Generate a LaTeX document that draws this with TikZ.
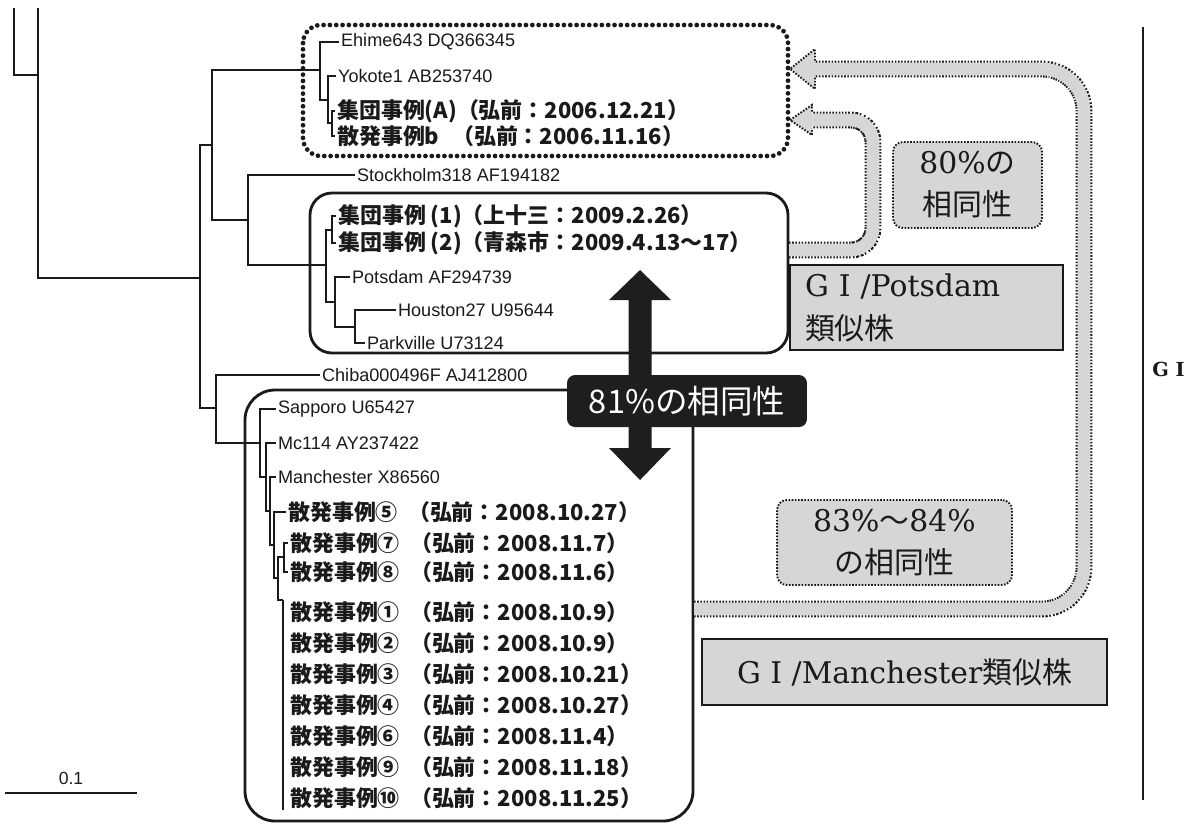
\documentclass[tikz,border=0pt]{standalone}
\usepackage{fontspec}
\newfontfamily\lab{Liberation Sans}
\newfontfamily\jp{Noto Sans CJK JP}
\newfontfamily\ser{DejaVu Serif}
\usepackage{tikz}
\usetikzlibrary{positioning,calc}

\definecolor{ink}{HTML}{1A1A1A}
\definecolor{shade}{HTML}{D6D6D6}
\definecolor{dark}{HTML}{1E1E1E}

\tikzset{
  branch/.style={draw=ink, line width=1.1pt},
  strain/.style={anchor=west, inner sep=1pt, text=ink, font=\lab\fontsize{10.3}{12}\selectfont},
  case/.style={anchor=west, inner sep=1pt, text=ink, font=\jp\bfseries\fontsize{12.5}{14}\selectfont},
  dotbox/.style={draw=ink, line width=2.7pt, line cap=round, dash pattern=on 0pt off 3.6pt, rounded corners=0.36cm},
  cladebox/.style={draw=ink, line width=1.6pt, rounded corners=0.5cm},
  simarrow/.style={draw=ink, line width=9.6pt, dash pattern=on 0.9pt off 0.9pt,
    postaction={draw=shade, solid, line width=7.2pt}},
  simhead/.style={fill=shade, draw=ink, line width=1.1pt, dash pattern=on 0.9pt off 0.9pt},
  simbox/.style={fill=shade, draw=ink, line width=1.1pt, dash pattern=on 0.9pt off 0.9pt,
    rounded corners=0.2cm, align=center, text=ink, font=\fontsize{17}{24}\selectfont},
  typebox/.style={fill=shade, draw=ink, line width=1.3pt, text=ink, font=\fontsize{17}{24.5}\selectfont}
}

% one sporadic case of the 2008 Hirosaki outbreak
\newcommand{\sanpatsu}[2]{\makebox[2.4cm][l]{散発事例#1}（弘前：#2）}

\begin{document}
\begin{tikzpicture}[x=0.02cm, y=-0.02cm]
  \useasboundingbox (0,0) rectangle (1192,823);

  % inner points of the tree
  \coordinate (out1) at (14,8);
  \coordinate (out2) at (38,8);
  \coordinate (r0) at (38,75);
  \coordinate (cA) at (200,278);
  \coordinate (cB) at (212,145);
  \coordinate (cUp) at (320,70);
  \coordinate (cY) at (328,100);
  \coordinate (cZ) at (332,123);
  \coordinate (cD) at (248,220);
  \coordinate (cP) at (326,265);
  \coordinate (cG) at (332,230);
  \coordinate (cQ) at (335,302);
  \coordinate (cH) at (355,327);
  \coordinate (cC) at (216,408);
  \coordinate (cM) at (260,443);
  \coordinate (cM2) at (266,477);
  \coordinate (cM3) at (270,511);
  \coordinate (cM4) at (274,545);
  \coordinate (cM5) at (278,578);
  \coordinate (c78) at (284,557);
  \coordinate (cPl) at (283,600);
  \coordinate (cPe) at (283,810);

  % strains and cases
  \node[strain] (ehime) at (339,42) {Ehime643 DQ366345};
  \node[strain] (yokote) at (336,76) {Yokote1 AB253740};
  \node[case] (caseA) at (335,111) {集団事例(A)（弘前：2006.12.21）};
  \node[case] (caseb) at (335,136) {\makebox[2.3cm][l]{散発事例b}（弘前：2006.11.16）};
  \node[strain] (stock) at (355,175) {Stockholm318 AF194182};
  \node[case] (case1) at (336,216) {集団事例 (1)（上十三：2009.2.26）};
  \node[case] (case2) at (336,243) {集団事例 (2)（青森市：2009.4.13～17）};
  \node[strain] (potsdam) at (350,277) {Potsdam AF294739};
  \node[strain] (houston) at (396,310) {Houston27 U95644};
  \node[strain] (parkville) at (365,343) {Parkville U73124};
  \node[strain] (chiba) at (320,375) {Chiba000496F AJ412800};
  \node[strain] (sapporo) at (276,409) {Sapporo U65427};
  \node[strain] (mc) at (276,443) {Mc114 AY237422};
  \node[strain] (manch) at (276,477) {Manchester X86560};
  \node[case] (s5) at (286,512) {\sanpatsu{⑤}{2008.10.27}};
  \node[case] (s7) at (288,543) {\sanpatsu{⑦}{2008.11.7}};
  \node[case] (s8) at (288,572) {\sanpatsu{⑧}{2008.11.6}};
  \node[case] (s1) at (288,612) {\sanpatsu{①}{2008.10.9}};
  \node[case] (s2) at (288,643) {\sanpatsu{②}{2008.10.9}};
  \node[case] (s3) at (288,674) {\sanpatsu{③}{2008.10.21}};
  \node[case] (s4) at (288,705) {\sanpatsu{④}{2008.10.27}};
  \node[case] (s6) at (288,736) {\sanpatsu{⑥}{2008.11.4}};
  \node[case] (s9) at (288,767) {\sanpatsu{⑨}{2008.11.18}};
  \node[case] (s10) at (288,798) {\sanpatsu{⑩}{2008.11.25}};

  % branches
  \draw[branch] (out1) |- (r0);
  \draw[branch] (out2) |- (cA);
  \draw[branch] (cA) |- (cB);
  \draw[branch] (cA) |- (cC);
  \draw[branch] (cB) |- (cUp);
  \draw[branch] (cB) |- (cD);
  \draw[branch] (cUp) |- (ehime.west);
  \draw[branch] (cUp) |- (cY);
  \draw[branch] (cY) |- (yokote.west);
  \draw[branch] (cY) |- (cZ);
  \draw[branch] (cZ) |- (caseA.west);
  \draw[branch] (cZ) |- (caseb.west);
  \draw[branch] (cD) |- (stock.west);
  \draw[branch] (cD) |- (cP);
  \draw[branch] (cP) |- (cG);
  \draw[branch] (cP) |- (cQ);
  \draw[branch] (cG) |- (case1.west);
  \draw[branch] (cG) |- (case2.west);
  \draw[branch] (cQ) |- (potsdam.west);
  \draw[branch] (cQ) |- (cH);
  \draw[branch] (cH) |- (houston.west);
  \draw[branch] (cH) |- (parkville.west);
  \draw[branch] (cC) |- (chiba.west);
  \draw[branch] (cC) |- (cM);
  \draw[branch] (cM) |- (sapporo.west);
  \draw[branch] (cM) |- (cM2);
  \draw[branch] (cM2) |- (mc.west);
  \draw[branch] (cM2) |- (cM3);
  \draw[branch] (cM3) |- (manch.west);
  \draw[branch] (cM3) |- (cM4);
  \draw[branch] (cM4) |- (s5.west);
  \draw[branch] (cM4) |- (cM5);
  \draw[branch] (cM5) |- (c78);
  \draw[branch] (cM5) |- (cPl);
  \draw[branch] (c78) |- (s7.west);
  \draw[branch] (c78) |- (s8.west);
  \draw[branch] (cPl) -- (cPe);

  % clade boxes
  \coordinate (ga-nw) at (303,25);
  \coordinate (ga-se) at (788,156);
  \coordinate (gb-nw) at (310,193);
  \coordinate (gb-se) at (788,353);
  \coordinate (gc-nw) at (245,390);
  \coordinate (gc-se) at (693,821);
  \draw[dotbox] (ga-nw) rectangle (ga-se);
  \draw[cladebox, rounded corners=0.44cm] (gb-nw) rectangle (gb-se);
  \draw[cladebox, rounded corners=0.6cm] (gc-nw) rectangle (gc-se);

  % homology arrows towards the 2006 clade
  \coordinate (a1s) at (789,250);
  \coordinate (a1c) at (873,250);
  \coordinate (a1e) at (812,120);
  \draw[simarrow, rounded corners=0.44cm] (a1s) -- (a1c) |- (a1e);
  \filldraw[simhead] (812,111.6) -- (812,105) -- (790,120) -- (812,135) -- (812,128.4);
  \coordinate (a2s) at (694,609);
  \coordinate (a2c) at (1084,609);
  \coordinate (a2e) at (815,69);
  \draw[simarrow, rounded corners=0.84cm] (a2s) -- (a2c) |- (a2e);
  \filldraw[simhead] (815,60.6) -- (815,49) -- (790,69) -- (815,89) -- (815,77.4);

  \node[simbox, minimum width=2.98cm, minimum height=1.72cm] (sim80) at (967.5,185)
    {{\ser 80\%}{\jp の}\\{\jp 相同性}};
  \node[simbox, minimum width=4.7cm, minimum height=1.7cm] (sim83) at (894.5,542.5)
    {{\ser 83\%}{\jp ～}{\ser 84\%}\\{\jp の相同性}};

  % double arrow between the two clades
  \fill[dark] (640,270) -- (671,300) -- (651.5,300) -- (651.5,448) -- (671,448)
    -- (640,480) -- (609,448) -- (628.5,448) -- (628.5,300) -- (609,300) -- cycle;
  \node[fill=dark, rounded corners=0.16cm, minimum width=4.8cm, minimum height=1.04cm,
    text=white, font=\jp\fontsize{18.5}{20}\selectfont] (sim81) at (687,401) {81\%の相同性};

  % genotype boxes
  \node[typebox, minimum width=5.46cm, minimum height=1.7cm, align=left, text width=4.86cm,
    inner xsep=0.3cm] (potbox) at (926.5,307.5) {{\ser G I /Potsdam}\\{\jp 類似株}};
  \node[typebox, minimum width=8.1cm, minimum height=1.32cm] (manbox) at (904.5,672)
    {{\ser G I /Manchester}{\jp 類似株}};

  % genogroup bar and scale
  \coordinate (gtop) at (1143,27);
  \coordinate (gbot) at (1143,800);
  \draw[line width=1.2pt, ink] (gtop) -- (gbot);
  \node[anchor=west, inner sep=0pt, text=ink, font=\ser\bfseries\fontsize{11}{12}\selectfont]
    (gI) at (1152,369) {G I};
  \coordinate (sb1) at (5,793);
  \coordinate (sb2) at (137,793);
  \draw[line width=1.1pt, ink] (sb1) -- node[above=1pt, font=\lab\fontsize{10}{12}\selectfont]
    (sbl) {0.1} (sb2);
\end{tikzpicture}
\end{document}
